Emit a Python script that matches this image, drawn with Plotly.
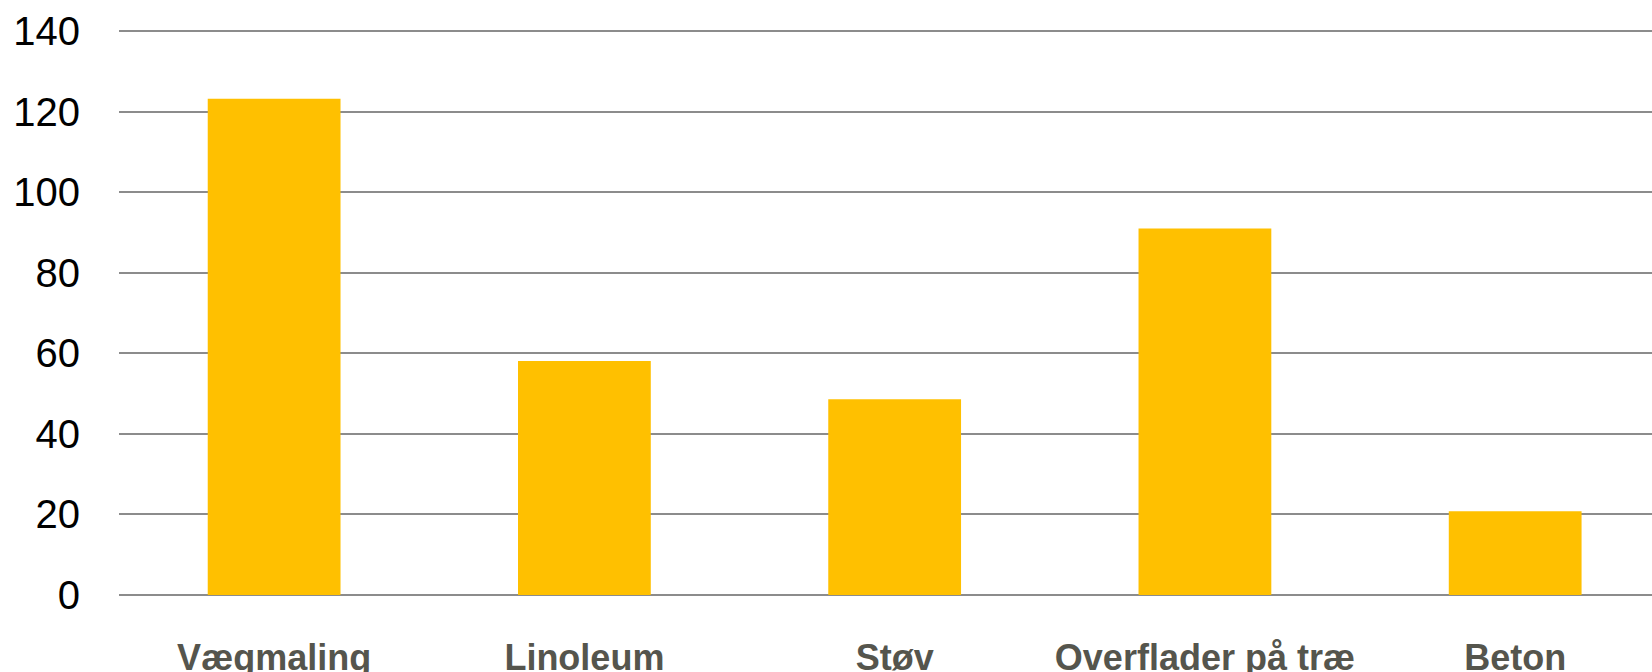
import plotly.graph_objects as go

categories = ["Vægmaling", "Linoleum", "Støv", "Overflader på træ", "Beton"]
values = [123.2, 58.1, 48.6, 91.0, 20.8]
y_ticks = [0, 20, 40, 60, 80, 100, 120, 140]

fig = go.Figure(
    go.Bar(
        x=categories,
        y=values,
        marker=dict(color="#FFC000", line=dict(width=0)),
        hoverinfo="skip",
    )
)

fig.update_layout(
    width=1652,
    height=672,
    margin=dict(l=119, r=0, t=30, b=76, autoexpand=False),
    paper_bgcolor="white",
    plot_bgcolor="white",
    bargap=0.572,
    showlegend=False,
    xaxis=dict(
        range=[-0.5, 4.441],
        showgrid=False,
        zeroline=False,
        showline=False,
        ticks="",
        automargin=False,
        ticklabelstandoff=37,
        tickfont=dict(family="Liberation Sans, Arial, sans-serif", size=36, color="#55554d", weight="bold"),
    ),
    yaxis=dict(
        range=[-0.25, 140.25],
        tickvals=y_ticks,
        ticktext=[str(v) for v in y_ticks],
        showgrid=True,
        gridcolor="#8c8c8c",
        gridwidth=2,
        zeroline=False,
        showline=False,
        ticks="",
        automargin=False,
        ticklabelstandoff=38,
        tickfont=dict(family="Liberation Sans, Arial, sans-serif", size=40, color="#000000"),
    ),
)

fig.write_html("out.html")
